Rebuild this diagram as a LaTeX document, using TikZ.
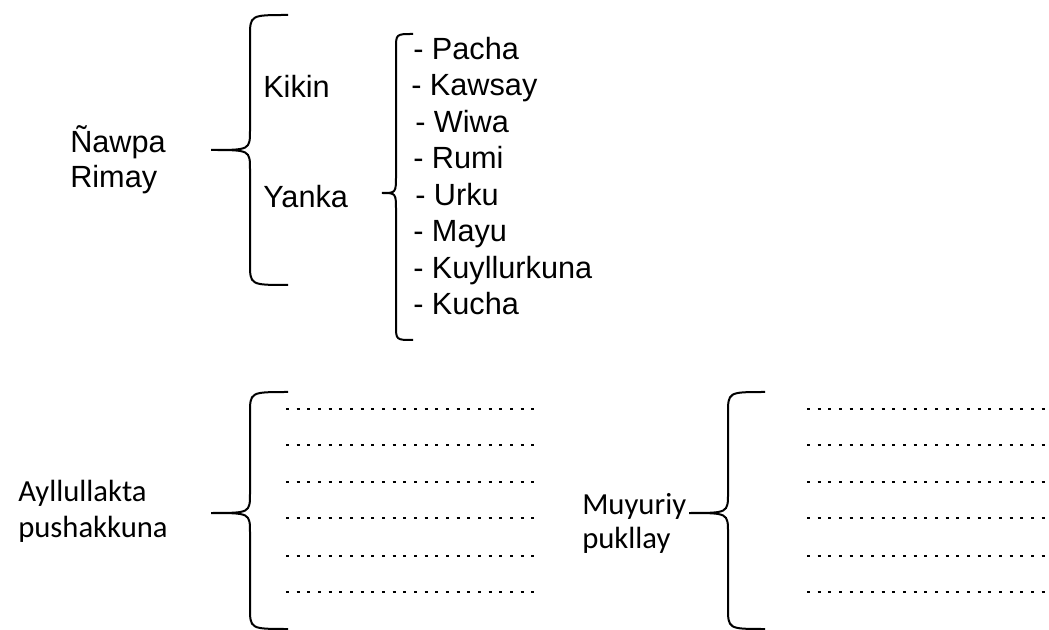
\documentclass[tikz,border=0pt]{standalone}
\usepackage{fontspec}
\setmainfont{Liberation Sans}
\newfontfamily\calibri{Carlito}
\usepackage{tikz}
\tikzset{>=latex}
\usetikzlibrary{calc}
\def\rescale{0.75pt}
\tikzset{
  brace/.style={line width=1.5pt},
  lbl/.style={anchor=base west, inner sep=0pt, font=\fontsize{23}{27}\selectfont},
  lblc/.style={anchor=base west, inner sep=0pt, font=\calibri\fontsize{23}{28}\selectfont},
  dots/.style={line width=2.2pt, dash pattern=on 2.2pt off 5.8pt},
}

\begin{document}
\begin{tikzpicture}[x=\rescale, y=-\rescale]

    \useasboundingbox (0, 0) rectangle (1049, 630);

    \node[lbl] (nawpa) at (70, 153) {Ñawpa};
    \node[lbl] (rimay) at (70, 188) {Rimay};
    \node[lbl] (kikin) at (263, 98) {Kikin};
    \node[lbl] (yanka) at (263, 208) {Yanka};

\foreach \dx/\txt [count=\i] in {0/- Pacha, -2/- Kawsay, 2/- Wiwa, 0/- Rumi,
                                 2/- Urku, 0/- Mayu, 0/- Kuyllurkuna, 0/- Kucha} {
      \node[lbl] (item\i) at ({413 + \dx}, {23 + 36.5 * \i}) {\txt};
}

    \node[lblc] (ayllu) at (18, 502) {Ayllullakta};
    \node[lblc] (pushak) at (18, 537) {pushakkuna};
    \node[lblc] (muyuriy) at (582, 514) {Muyuriy};
    \node[lblc] (pukllay) at (582, 548) {pukllay};

\foreach \tx/\ty/\vx/\ex/\ya/\yb/\h/\m in {211/150/250/288/15/285/22/20,
                                          382/193/396/413/34/340/15/18,
                                          211/513/250/288/392/629/22/20,
                                          689/513/728/765/392/629/22/20} {
      \coordinate (tip) at (\tx, \ty);
      \coordinate (t) at (\ex, \ya);
      \coordinate (b) at (\ex, \yb);

      \draw[brace] (t) .. controls (\vx, \ya) .. (\vx, {\ya + \h})
        -- (\vx, {\ty - \m}) .. controls (\vx, \ty) .. (tip)
        .. controls (\vx, \ty) .. (\vx, {\ty + \m})
        -- (\vx, {\yb - \h}) .. controls (\vx, \yb) .. (b);
}

\foreach \y [count=\i] in {409, 445, 482, 518, 556, 592} {
      \coordinate (la\i) at (286, \y);
      \coordinate (lb\i) at (540, \y);
      \coordinate (ra\i) at (807, \y);
      \coordinate (rb\i) at (1049, \y);

      \draw[dots] (la\i) -- (lb\i);
      \draw[dots] (ra\i) -- (rb\i);
}

\end{tikzpicture}
\end{document}
